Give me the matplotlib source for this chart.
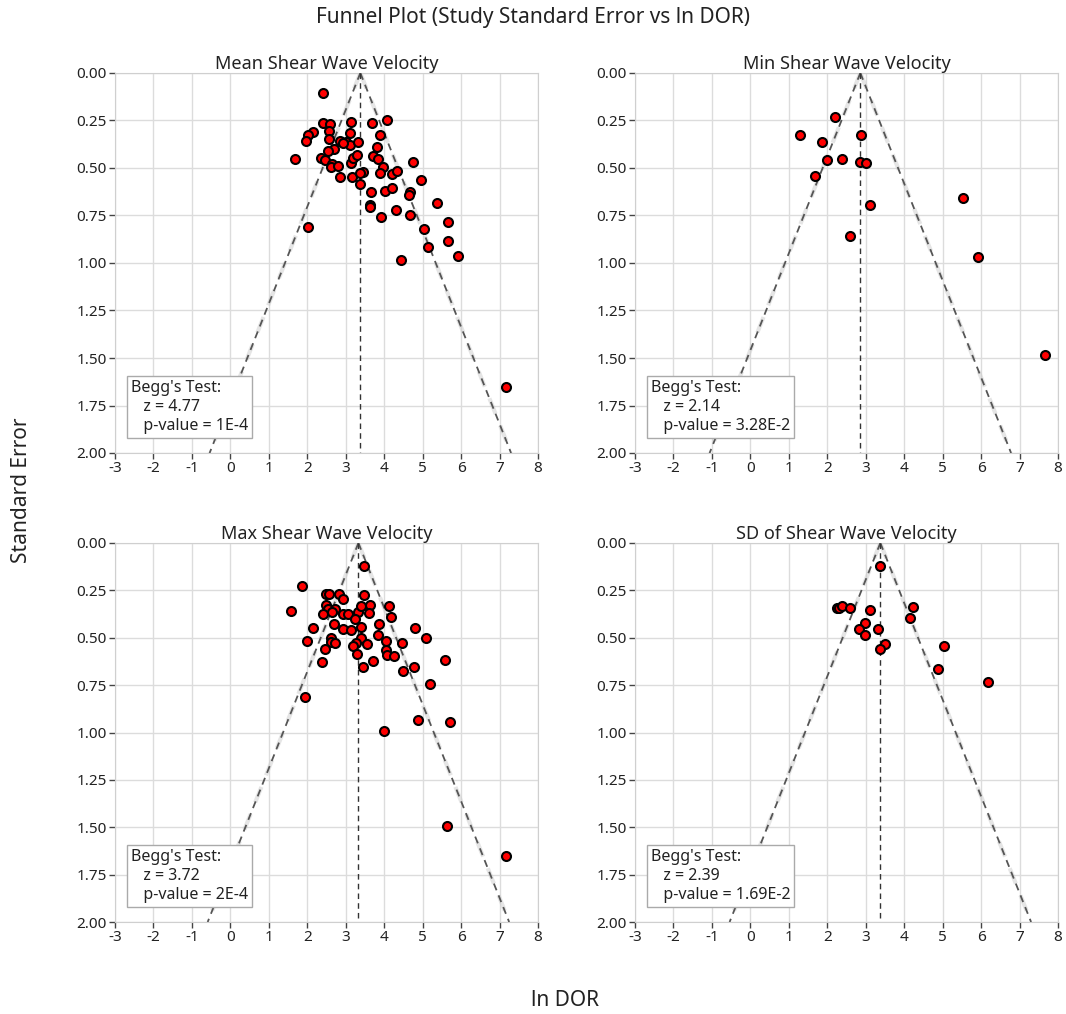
import numpy as np
import matplotlib
matplotlib.use('Agg')
import matplotlib.pyplot as plt

plt.rcParams['font.family'] = ['Noto Sans', 'DejaVu Sans']
plt.rcParams['axes.unicode_minus'] = False

# panel titles and Begg's test results
titles = ['Mean Shear Wave Velocity', 'Min Shear Wave Velocity',
          'Max Shear Wave Velocity', 'SD of Shear Wave Velocity']
begg_z = ['4.77', '2.14', '3.72', '2.39']
begg_p = ['1E-4', '3.28E-2', '2E-4', '1.69E-2']
pooled_ln_dor = [3.38, 2.86, 3.33, 3.38]

# ln DOR / standard error of each study
mean_x = [2.41, 2.40, 2.60, 3.13, 3.69, 4.08, 2.16, 2.01, 1.97, 2.57, 2.57, 3.11,
          3.90, 2.86, 3.01, 3.11, 3.31, 3.81, 2.70, 2.55, 3.72, 3.84, 1.67, 2.36,
          2.46, 2.65, 2.61, 2.80, 3.13, 3.18, 3.29, 3.96, 4.76, 2.85, 3.16, 3.45,
          3.38, 3.36, 3.88, 4.20, 4.33, 4.96, 3.65, 4.03, 4.21, 4.66, 4.64, 3.64,
          3.62, 4.31, 3.91, 4.68, 5.37, 5.67, 5.04, 2.03, 5.65, 5.15, 5.92, 4.45,
          7.17, 2.92]
mean_se = [0.105, 0.265, 0.270, 0.258, 0.261, 0.247, 0.312, 0.325, 0.358, 0.304, 0.349, 0.314,
           0.326, 0.356, 0.363, 0.377, 0.365, 0.389, 0.400, 0.409, 0.437, 0.453, 0.454, 0.447,
           0.458, 0.479, 0.496, 0.489, 0.472, 0.449, 0.433, 0.496, 0.467, 0.547, 0.546, 0.519,
           0.525, 0.584, 0.528, 0.532, 0.516, 0.563, 0.625, 0.619, 0.604, 0.628, 0.644, 0.695,
           0.707, 0.719, 0.760, 0.749, 0.686, 0.782, 0.819, 0.812, 0.886, 0.918, 0.963, 0.986,
           1.651, 0.370]

min_x = [2.20, 1.30, 1.87, 2.88, 2.00, 2.38, 2.86, 3.01, 1.67, 3.11, 2.60, 5.52, 5.91, 7.66]
min_se = [0.230, 0.328, 0.361, 0.328, 0.460, 0.453, 0.468, 0.472, 0.540, 0.696, 0.856, 0.656,
          0.967, 1.484]

max_x = [3.48, 1.86, 1.57, 2.49, 2.57, 2.82, 2.92, 3.48, 2.48, 2.55, 2.73, 2.64, 2.42, 2.94,
         3.05, 3.31, 3.41, 3.63, 3.60, 4.12, 4.17, 3.24, 2.70, 2.14, 2.94, 3.13, 3.39, 3.86,
         4.81, 1.99, 2.61, 2.63, 2.73, 2.45, 3.39, 3.27, 3.20, 3.56, 3.83, 4.06, 4.06, 4.07,
         4.25, 3.30, 4.46, 5.08, 2.37, 3.44, 3.72, 4.48, 4.78, 5.59, 5.20, 1.93, 4.00, 4.89,
         5.70, 5.63, 7.17]
max_se = [0.124, 0.228, 0.359, 0.268, 0.271, 0.268, 0.297, 0.277, 0.326, 0.349, 0.349, 0.363,
          0.375, 0.375, 0.375, 0.364, 0.335, 0.329, 0.368, 0.331, 0.391, 0.403, 0.430, 0.449,
          0.454, 0.461, 0.445, 0.428, 0.449, 0.519, 0.501, 0.523, 0.530, 0.558, 0.501, 0.530,
          0.546, 0.532, 0.487, 0.516, 0.567, 0.593, 0.596, 0.586, 0.530, 0.501, 0.628, 0.655,
          0.625, 0.674, 0.653, 0.616, 0.746, 0.811, 0.992, 0.934, 0.945, 1.496, 1.654]

sd_x = [3.36, 2.26, 2.31, 2.38, 2.59, 3.11, 4.22, 4.16, 2.98, 2.82, 3.31, 2.98, 3.51, 3.37,
        5.03, 4.89, 6.18]
sd_se = [0.124, 0.342, 0.342, 0.330, 0.343, 0.352, 0.340, 0.396, 0.422, 0.456, 0.452, 0.487,
         0.531, 0.561, 0.544, 0.665, 0.735]

xs = [mean_x, min_x, max_x, sd_x]
ses = [mean_se, min_se, max_se, sd_se]

fig = plt.figure(figsize=(10.66, 10.14), dpi=100)
W, H = 1066, 1014
# axes boxes in pixels: left, top, right, bottom
boxes = [(115, 73, 538, 453), (635, 73, 1058, 453),
         (115, 543, 538, 922), (635, 543, 1058, 922)]

for i in range(4):
    l, t, r, b = boxes[i]
    ax = fig.add_axes([l / W, 1 - b / H, (r - l) / W, (b - t) / H])
    ax.set_xlim(-3, 8)
    ax.set_ylim(2, 0)
    ax.set_xticks(range(-3, 9))
    ax.set_yticks(np.arange(0, 2.01, 0.25))
    ax.set_yticklabels(['%.2f' % v for v in np.arange(0, 2.01, 0.25)])
    ax.grid(True, color='#dcdcdc', lw=1.0)
    ax.set_axisbelow(True)
    for s in ax.spines.values():
        s.set_color('#cfcfcf')
    ax.tick_params(colors='#222222', labelsize=11, length=4, width=1, pad=2)
    ax.tick_params(axis='both', color='#444444')

    m = pooled_ln_dor[i]
    se_line = np.array([0, 2.0])
    for sign in (-1, 1):
        ax.plot(m + sign * 1.96 * se_line, se_line, color='#cccccc', lw=3.0,
                ls=(0, (4, 3)), alpha=0.5, zorder=2)
        ax.plot(m + sign * 1.96 * se_line, se_line, color='#555555', lw=1.3,
                ls=(0, (4, 3)), zorder=3)
    ax.plot([m, m], [0, 2], color='#333333', lw=1.0, ls=(0, (4, 3)), zorder=3)

    ax.scatter(xs[i], ses[i], s=42, c='red', edgecolors='black', linewidths=1.5, zorder=4)
    ax.set_title(titles[i], fontsize=13, pad=1, color='#222222')

    txt = "Begg's Test:\n   z = %s\n   p-value = %s" % (begg_z[i], begg_p[i])
    ax.text(0.037, 0.05, txt, transform=ax.transAxes, fontsize=11.5, va='bottom',
            ha='left', color='#222222', linespacing=1.25,
            bbox=dict(boxstyle='square,pad=0.25', fc='white', ec='#aaaaaa', lw=1))

fig.text(533 / W, 1 - 18 / H, 'Funnel Plot (Study Standard Error vs ln DOR)',
         ha='center', va='center', fontsize=15, color='#222222')
fig.text(22 / W, 1 - 490 / H, 'Standard Error', rotation=90, ha='center',
         va='center', fontsize=15, color='#222222')
fig.text(565 / W, 1 - 1000 / H, 'ln DOR', ha='center', va='center', fontsize=15,
         color='#222222')

fig.savefig('out.png', dpi=100)
